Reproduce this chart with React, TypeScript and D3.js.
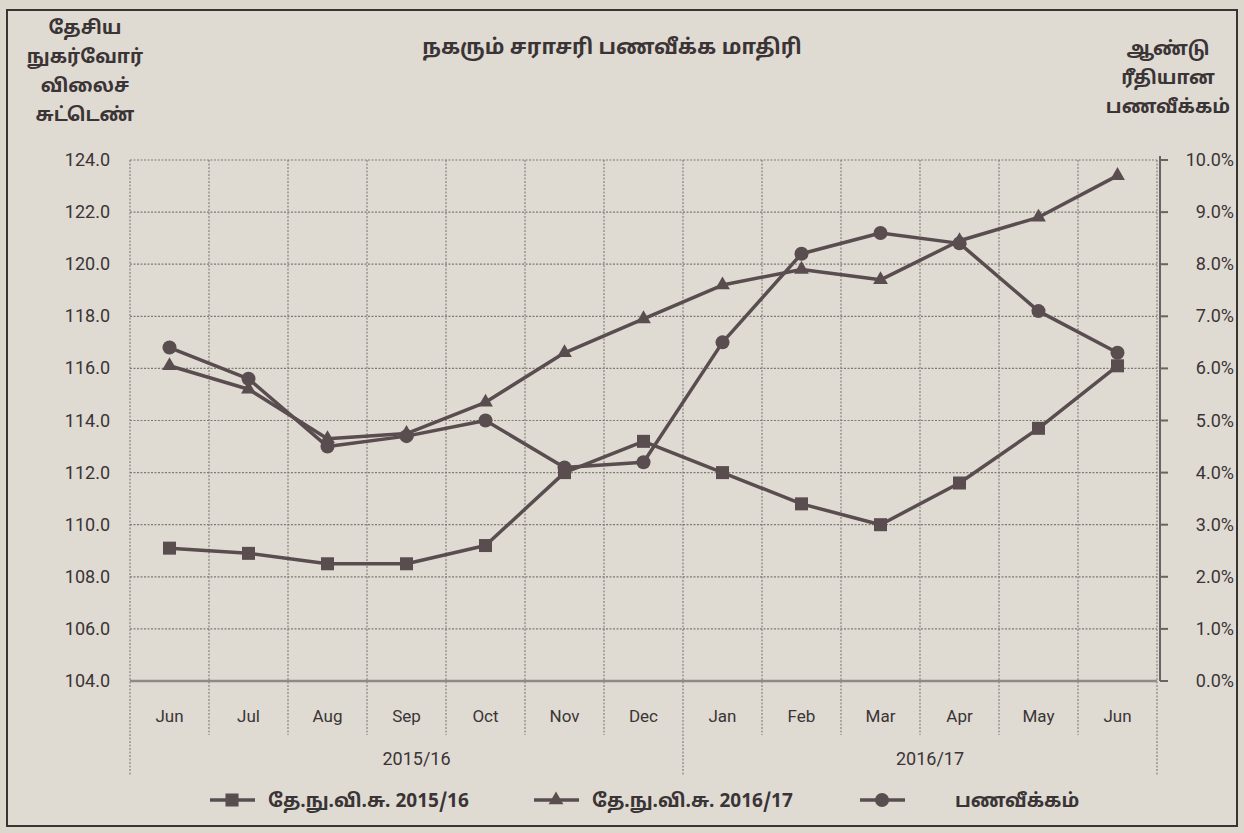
import * as d3 from 'd3';
import React from 'react';

// chart data
const months = ['Jun', 'Jul', 'Aug', 'Sep', 'Oct', 'Nov', 'Dec', 'Jan', 'Feb', 'Mar', 'Apr', 'May', 'Jun'];
const cpi1516 = [109.1, 108.9, 108.5, 108.5, 109.2, 112.0, 113.2, 112.0, 110.8, 110.0, 111.6, 113.7, 116.1];
const cpi1617 = [116.1, 115.2, 113.3, 113.5, 114.7, 116.6, 117.9, 119.2, 119.8, 119.4, 120.9, 121.8, 123.4];
const inflation = [6.4, 5.8, 4.5, 4.7, 5.0, 4.1, 4.2, 6.5, 8.2, 8.6, 8.4, 7.1, 6.3];
const leftTicks = [104, 106, 108, 110, 112, 114, 116, 118, 120, 122, 124];
const rightTicks = [0, 1, 2, 3, 4, 5, 6, 7, 8, 9, 10];
const years = [
  { label: '2015/16', from: 0, to: 6 },
  { label: '2016/17', from: 7, to: 12 },
];

const title = 'நகரும் சராசரி பணவீக்க மாதிரி';
const leftTitle = ['தேசிய', 'நுகர்வோர்', 'விலைச்', 'சுட்டெண்'];
const rightTitle = ['ஆண்டு', 'ரீதியான', 'பணவீக்கம்'];
const legendNames = ['தே.நு.வி.சு. 2015/16', 'தே.நு.வி.சு. 2016/17', 'பணவீக்கம்'];

const W = 1244, H = 833;
const m = { left: 130, right: 1157, top: 160, bottom: 681 };
const ink = '#5a4d50';
const txt = '#3b3436';
const tamil = '"Noto Sans Tamil", "Noto Sans", "Lohit Tamil", sans-serif';
const num = 'Roboto, "Open Sans", sans-serif';

const Marker = ({ kind, x, y }) => {
  if (kind === 'square') return <rect x={x - 6.5} y={y - 6.5} width={13} height={13} fill={ink} />;
  if (kind === 'tri') return <path d={d3.symbol(d3.symbolTriangle, 95)()} transform={`translate(${x},${y})`} fill={ink} />;
  return <circle cx={x} cy={y} r={7} fill={ink} />;
};

const App = () => {
  const x = d3.scaleBand().domain(months.map((d, i) => String(i))).range([m.left, m.right]).padding(0);
  const cx = (i) => x(String(i)) + x.bandwidth() / 2;
  const yL = d3.scaleLinear().domain([104, 124]).range([m.bottom, m.top]);
  const yR = d3.scaleLinear().domain([0, 10]).range([m.bottom, m.top]);

  const series = [
    { vals: cpi1516, y: yL, kind: 'square' },
    { vals: cpi1617, y: yL, kind: 'tri' },
    { vals: inflation, y: yR, kind: 'circle' },
  ];

  const bounds = d3.range(months.length + 1).map(i => m.left + i * x.bandwidth());
  const groupEdges = [0, 7, 13];

  return (
    <div style={{ position: 'absolute', left: 0, top: 0 }}>
      <svg width={W} height={H} style={{ display: 'block' }}>
        <rect x={0} y={0} width={W} height={H} fill="#dcd8ce" />
        <rect x={7} y={10} width={1230} height={816} fill="#dfdbd2" stroke="#3a3334" strokeWidth={2} />

        {/* gridlines */}
        {leftTicks.map(t => (
          <line key={'h' + t} x1={m.left} x2={m.right} y1={yL(t)} y2={yL(t)}
            stroke="#7f7a77" strokeWidth={1.2} strokeDasharray="2,1.5" />
        ))}
        {bounds.map((bx, i) => (
          <line key={'v' + i} x1={bx} x2={bx} y1={m.top}
            y2={groupEdges.includes(i) ? 775 : 735}
            stroke="#7f7a77" strokeWidth={1.1} strokeDasharray="2,1.5" />
        ))}
        <line x1={m.left} x2={m.right} y1={m.bottom} y2={m.bottom} stroke="#8f8a86" strokeWidth={2.5} />
        <line x1={m.right + 3} x2={m.right + 3} y1={m.top - 4} y2={m.bottom} stroke="#6b6264" strokeWidth={2} />
        {rightTicks.map(t => (
          <line key={'rt' + t} x1={m.right + 3} x2={m.right + 11} y1={yR(t)} y2={yR(t)} stroke="#6b6264" strokeWidth={2} />
        ))}

        {/* axis labels */}
        {leftTicks.map(t => (
          <text key={'l' + t} x={110} y={yL(t) + 6} textAnchor="end" fontFamily={num} fontSize={18} fill={txt}>
            {t.toFixed(1)}
          </text>
        ))}
        {rightTicks.map(t => (
          <text key={'r' + t} x={1234} y={yR(t) + 6} textAnchor="end" fontFamily={num} fontSize={18} fill={txt}>
            {t.toFixed(1) + '%'}
          </text>
        ))}
        {months.map((d, i) => (
          <text key={'m' + i} x={cx(i)} y={722} textAnchor="middle" fontFamily={num} fontSize={17} fill={txt}>{d}</text>
        ))}
        {years.map(g => (
          <text key={g.label} x={(cx(g.from) + cx(g.to)) / 2 + 10} y={765} textAnchor="middle" fontFamily={num} fontSize={18} fill={txt}>
            {g.label}
          </text>
        ))}

        {/* series */}
        {series.map((s, k) => {
          const line = d3.line().x((d, i) => cx(i)).y(d => s.y(d));
          return (
            <g key={'s' + k}>
              <path d={line(s.vals)} fill="none" stroke={ink} strokeWidth={3.5} strokeLinejoin="round" />
              {s.vals.map((v, i) => <Marker key={i} kind={s.kind} x={cx(i)} y={s.y(v)} />)}
            </g>
          );
        })}

        {/* titles */}
        <text x={612} y={54} textAnchor="middle" fontFamily={tamil} fontWeight="bold" fontSize={21} fill={txt}>{title}</text>
        {leftTitle.map((t, i) => (
          <text key={'lt' + i} x={85} y={34 + i * 29} textAnchor="middle" fontFamily={tamil} fontWeight="bold" fontSize={19} fill={txt}>{t}</text>
        ))}
        {rightTitle.map((t, i) => (
          <text key={'rt' + i} x={1168} y={55 + i * 29} textAnchor="middle" fontFamily={tamil} fontWeight="bold" fontSize={19} fill={txt}>{t}</text>
        ))}

        {/* legend */}
        {[{ x: 210, tx: 268 }, { x: 534, tx: 592 }, { x: 860, tx: 955 }].map((p, i) => (
          <g key={'lg' + i}>
            <line x1={p.x} x2={p.x + 45} y1={800} y2={800} stroke={ink} strokeWidth={3.5} />
            <Marker kind={series[i].kind} x={p.x + 22} y={800} />
            <text x={p.tx} y={807} fontFamily={tamil} fontWeight="bold" fontSize={19} fill={txt}>{legendNames[i]}</text>
          </g>
        ))}
      </svg>
    </div>
  );
};

export default App;
